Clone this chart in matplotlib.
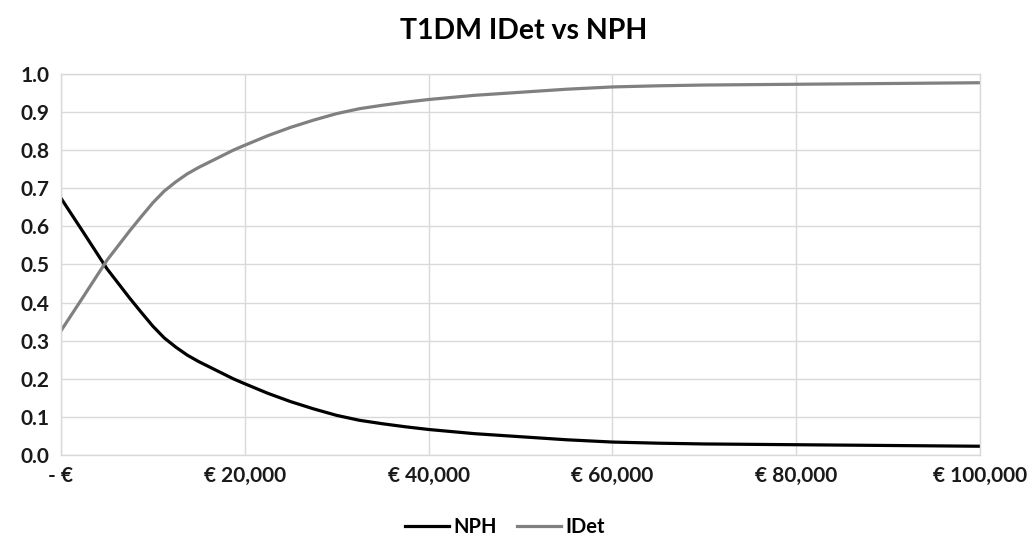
import matplotlib
matplotlib.use("Agg")
import matplotlib.pyplot as plt
from matplotlib.ticker import FuncFormatter, MultipleLocator

# willingness-to-pay (EUR) vs probability of being cost-effective
cost = [0, 2500, 5000, 6250, 7500, 8750, 10000, 11250, 12500, 13750,
        15000, 16250, 17500, 18750, 20000, 22500, 25000, 27500, 30000,
        32500, 35000, 37500, 40000, 45000, 50000, 55000, 60000, 65000,
        70000, 75000, 80000, 85000, 90000, 95000, 100000]
nph = [0.674, 0.582, 0.489, 0.450, 0.411, 0.374, 0.338, 0.307, 0.283, 0.262,
       0.245, 0.230, 0.215, 0.200, 0.187, 0.162, 0.140, 0.121, 0.104,
       0.091, 0.082, 0.074, 0.067, 0.056, 0.048, 0.040, 0.034, 0.031,
       0.029, 0.028, 0.027, 0.026, 0.025, 0.024, 0.023]
idet = [0.326, 0.418, 0.511, 0.550, 0.589, 0.626, 0.662, 0.693, 0.717, 0.738,
        0.755, 0.770, 0.785, 0.800, 0.813, 0.838, 0.860, 0.879, 0.896,
        0.909, 0.918, 0.926, 0.933, 0.944, 0.952, 0.960, 0.966, 0.969,
        0.971, 0.972, 0.973, 0.974, 0.975, 0.976, 0.977]

title = "T1DM IDet vs NPH"
font = "Lato"
grid_col = "#d9d9d9"


def euro(v, _pos):
    if v == 0:
        return "- \u20ac"
    return f"\u20ac {v:,.0f}"


fig = plt.figure(figsize=(10.3, 5.42), dpi=100)
ax = fig.add_axes([0.0592, 0.1605, 0.8923, 0.703])

ax.plot(cost, nph, color="black", lw=2.3, label="NPH", solid_joinstyle="round")
ax.plot(cost, idet, color="#808080", lw=2.3, label="IDet", solid_joinstyle="round")

ax.set_xlim(0, 100000)
ax.set_ylim(0, 1.0)
ax.xaxis.set_major_locator(MultipleLocator(20000))
ax.yaxis.set_major_locator(MultipleLocator(0.1))
ax.xaxis.set_major_formatter(FuncFormatter(euro))
ax.yaxis.set_major_formatter(FuncFormatter(lambda v, p: f"{v:.1f}"))

ax.grid(True, color=grid_col, lw=1)
ax.set_axisbelow(True)
for s in ax.spines.values():
    s.set_color(grid_col)
    s.set_linewidth(1)
ax.tick_params(length=0, labelsize=15, pad=8)
for lab in ax.get_xticklabels() + ax.get_yticklabels():
    lab.set_fontfamily(font)
    lab.set_fontweight("bold")
    lab.set_color("#1a1a1a")

fig.text(0.508, 0.943, title, ha="center", va="center", fontsize=20.5,
         fontweight="bold", fontfamily=font)

fig.legend(loc="center", bbox_to_anchor=(0.49, 0.028), ncol=2,
           frameon=False, handlelength=2.2, columnspacing=1.0,
           handletextpad=0.2, prop={"family": font, "weight": "bold",
                                    "size": 14.5})

fig.savefig("out.png", dpi=100)
